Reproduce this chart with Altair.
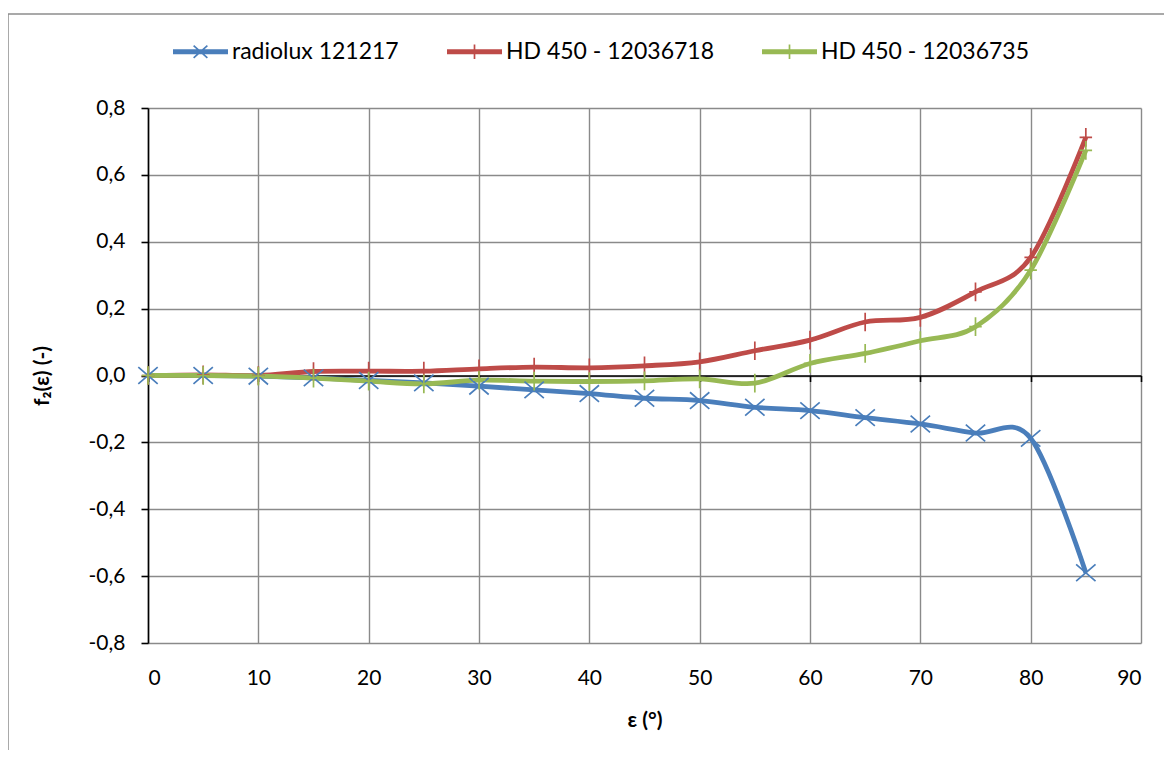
import altair as alt
import pandas as pd

# ---- data ----
angles = [0, 5, 10, 15, 20, 25, 30, 35, 40, 45, 50, 55, 60, 65, 70, 75, 80, 85]
radiolux = [0.0, 0.0, -0.002, -0.007, -0.015, -0.022, -0.032, -0.043, -0.054, -0.068,
            -0.075, -0.095, -0.105, -0.126, -0.145, -0.172, -0.188, -0.59]
hd_718 = [0.0, 0.002, 0.0, 0.012, 0.013, 0.013, 0.02, 0.025, 0.023, 0.029,
          0.041, 0.074, 0.106, 0.16, 0.174, 0.25, 0.353, 0.712]
hd_735 = [0.0, 0.0, -0.002, -0.008, -0.017, -0.025, -0.014, -0.017, -0.018, -0.016,
          -0.01, -0.023, 0.036, 0.066, 0.104, 0.146, 0.315, 0.673]

series_names = ["radiolux 121217", "HD 450 - 12036718", "HD 450 - 12036735"]
series_values = [radiolux, hd_718, hd_735]
colors = ["#4A7EBB", "#BE4B48", "#98B954"]

# marker glyphs (unit-scaled svg paths)
X_MARK = "M-0.28,-0.24L0.28,0.24M-0.28,0.24L0.28,-0.24"
PLUS_MARK = "M-0.18,0L0.18,0M0,-0.27L0,0.27"
marker_paths = [X_MARK, PLUS_MARK, PLUS_MARK]
# legend glyphs: thick line segment + marker
BAR = "M-1,-0.06L1,-0.06M-1,0L1,0M-1,0.06L1,0.06"
legend_paths = [
    BAR + "M-0.25,-0.22L0.25,0.22M-0.25,0.22L0.25,-0.22",
    BAR + "M0,-0.26L0,0.26",
    BAR + "M0,-0.26L0,0.26",
]
y_ticks = [-0.8, -0.6, -0.4, -0.2, 0.0, 0.2, 0.4, 0.6, 0.8]
x_ticks = [0, 10, 20, 30, 40, 50, 60, 70, 80, 90]

rows = []
for name, vals in zip(series_names, series_values):
    for a, v in zip(angles, vals):
        rows.append({"eps": a, "f2": v, "series": name})
df = pd.DataFrame(rows)

FONT = "Lato"
W, H = 993, 535
PAD_L, PAD_T, PAD_R, PAD_B = 140, 100, 23, 107

xscale = alt.Scale(domain=[0, 90], nice=False, zero=False)
yscale = alt.Scale(domain=[-0.8, 0.8], nice=False)
color_scale = alt.Scale(domain=series_names, range=colors)

x_axis_main = alt.Axis(
    values=x_ticks, title="ε (°)", grid=True, gridColor="#8a8a8a", gridWidth=1.4,
    domain=False, ticks=False, labelPadding=24, titlePadding=21,
)
x_axis_zero = alt.Axis(
    orient="bottom", offset=-H / 2, values=x_ticks, labels=False, title=None,
    grid=False, domain=True, domainColor="black", domainWidth=1.6,
    ticks=True, tickColor="black", tickWidth=1.6, tickSize=6,
)
y_axis = alt.Axis(
    values=y_ticks, title="f₂(ε) (-)", grid=True, gridColor="#8a8a8a", gridWidth=1.4,
    domain=True, domainColor="black", domainWidth=1.6,
    ticks=True, tickColor="black", tickWidth=1.6, tickSize=7,
    labelPadding=16, titlePadding=36,
    labelExpr="replace(replace(format(datum.value, '.1f'), '.', ','), '\u2212', '-')",
)

stroke_expr = " : ".join(
    f"datum.value === '{n}' ? '{c}'" for n, c in zip(series_names[:-1], colors[:-1])
) + f" : '{colors[-1]}'"

legend = alt.Legend(
    orient="none", legendX=24, legendY=-85, direction="horizontal", columns=3,
    columnPadding=44, symbolSize=3025, title=None, labelFont=FONT,
    labelFontSize=23, labelLimit=500, labelOffset=3, labelColor="black",
    symbolStrokeWidth=1.7, symbolOpacity=1, symbolFillColor="transparent",
    symbolStrokeColor=alt.ExprRef(expr=stroke_expr),
)


def line_layer(name):
    return (
        alt.Chart(df)
        .transform_filter(alt.datum.series == name)
        .mark_line(interpolate="cardinal", strokeWidth=4.8)
        .encode(
            x=alt.X("eps:Q", scale=xscale, axis=x_axis_main),
            y=alt.Y("f2:Q", scale=yscale, axis=y_axis),
            color=alt.Color("series:N", scale=color_scale, legend=None),
        )
    )


lines = alt.layer(*[line_layer(n) for n in series_names])

points = (
    alt.Chart(df)
    .mark_point(filled=False, size=4800, strokeWidth=1.7, opacity=1)
    .encode(
        x=alt.X("eps:Q", scale=xscale, axis=x_axis_zero),
        y=alt.Y("f2:Q", scale=yscale),
        color=alt.Color("series:N", scale=color_scale, legend=None),
        shape=alt.Shape("series:N", scale=alt.Scale(domain=series_names, range=marker_paths),
                        legend=None),
    )
)

legend_carrier = (
    alt.Chart(df)
    .mark_point(filled=False, opacity=0)
    .encode(
        x=alt.X("eps:Q", scale=xscale, axis=None),
        y=alt.Y("f2:Q", scale=yscale),
        shape=alt.Shape("series:N", scale=alt.Scale(domain=series_names, range=legend_paths),
                        legend=legend),
    )
)

# chart-area frame (grey border of the original figure)
frame_top = alt.Chart(pd.DataFrame({"k": [0]})).mark_rule(color="#8c8c8c", strokeWidth=1.5).encode(
    x=alt.value(-PAD_L), x2=alt.value(W + PAD_R), y=alt.value(-PAD_T + 6)
)
frame_left = alt.Chart(pd.DataFrame({"k": [0]})).mark_rule(color="#8c8c8c", strokeWidth=1.5).encode(
    x=alt.value(-PAD_L), y=alt.value(-PAD_T + 6), y2=alt.value(H + PAD_B)
)

chart = (
    alt.layer(frame_top, frame_left, lines, points, legend_carrier)
    .resolve_scale(shape="independent")
    .resolve_axis(x="independent")
    .properties(
        width=W, height=H,
        autosize=alt.AutoSizeParams(type="none"),
        padding={"left": PAD_L, "top": PAD_T, "right": PAD_R, "bottom": PAD_B},
        background="white",
    )
    .configure_view(stroke=None)
    .configure_axis(
        labelFont=FONT, labelFontSize=21, labelColor="black",
        titleFont=FONT, titleFontSize=21, titleFontWeight="bold", titleColor="black",
    )
)

chart.save("out.html", embed_options={"renderer": "svg", "actions": False})
